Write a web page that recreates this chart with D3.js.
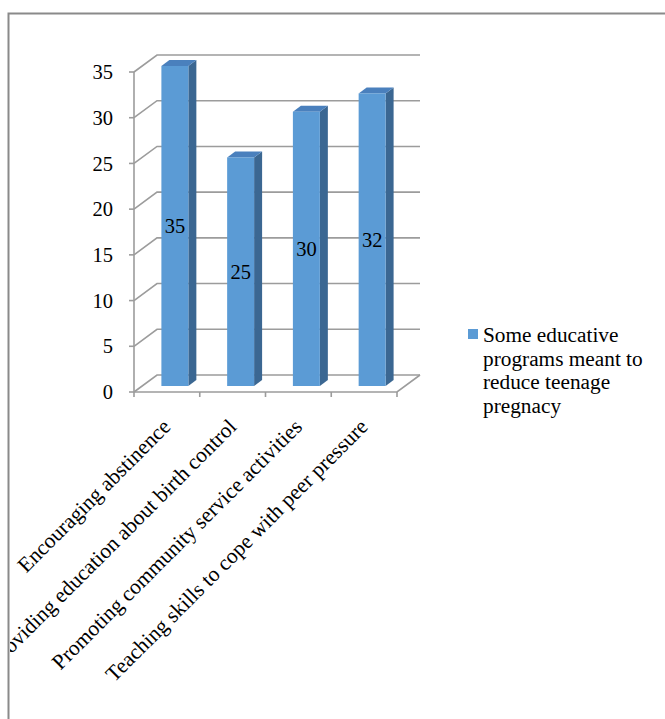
<!DOCTYPE html>
<html>
<head>
<meta charset="utf-8">
<script src="https://cdn.jsdelivr.net/npm/d3@7"></script>
<style>
  html, body { margin: 0; padding: 0; background: #fff; }
  svg { display: block; }
</style>
</head>
<body>
<svg id="chart" width="665" height="719"></svg>
<script>
// Survey results: educative programs meant to reduce teenage pregnancy
const categories = [
  "Encouraging abstinence",
  "Providing education about birth control",
  "Promoting community service activities",
  "Teaching skills to cope with peer pressure"
];
const values = [35, 25, 30, 32];
const yTicks = [0, 5, 10, 15, 20, 25, 30, 35];
const seriesName = ["Some educative", "programs meant to", "reduce teenage", "pregnacy"];

const FONT = "serif";
const svg = d3.select("#chart");

// Plot box (front plane) and the oblique depth of the 3D floor
const plot = { left: 134, right: 397, bottom: 392, top: 72 };
const depth = { dx: 23, dy: -17 };        // back wall offset
const barFront = { dx: 8, dy: -6 };       // bar front face offset
const barBack = { dx: 16, dy: -12 };      // bar back face offset

const x = d3.scaleBand()
  .domain(categories)
  .range([plot.left, plot.right])
  .paddingInner(0.59)
  .paddingOuter(0.295);

const xTick = d3.scaleBand().domain(categories).range([plot.left, plot.right]);

const y = d3.scaleLinear().domain([0, 35]).range([plot.bottom, plot.top]);

const colors = { front: "#5b9bd5", side: "#3b6792", top: "#4a80bd" };
const gridColor = "#9c9c9c";

// Outer frame
svg.append("rect")
  .attr("x", 8.5).attr("y", 13.5)
  .attr("width", 720).attr("height", 800)
  .attr("fill", "none").attr("stroke", "#8a8a8a").attr("stroke-width", 2);

svg.append("clipPath").attr("id", "frameClip")
  .append("rect").attr("x", 10).attr("y", 15).attr("width", 700).attr("height", 800);

const g = svg.append("g").attr("clip-path", "url(#frameClip)");

// Gridlines: left wall diagonals and back wall horizontals
const grid = g.append("g").attr("stroke", gridColor).attr("stroke-width", 1.6).attr("fill", "none");
yTicks.forEach(t => {
  const yy = y(t);
  grid.append("path").attr("d", d3.line()([
    [plot.left, yy],
    [plot.left + depth.dx, yy + depth.dy],
    [plot.right + depth.dx, yy + depth.dy]
  ]));
});
// Floor front edge and right edge
grid.append("path").attr("d", d3.line()([
  [plot.left, plot.bottom],
  [plot.right, plot.bottom],
  [plot.right + depth.dx, plot.bottom + depth.dy]
]));
// Vertical axis line
grid.append("line")
  .attr("x1", plot.left).attr("x2", plot.left)
  .attr("y1", y(35)).attr("y2", plot.bottom);

// Value axis ticks and labels
const yAxis = g.append("g");
yTicks.forEach(t => {
  yAxis.append("line")
    .attr("x1", plot.left - 5).attr("x2", plot.left)
    .attr("y1", y(t)).attr("y2", y(t))
    .attr("stroke", gridColor).attr("stroke-width", 1.6);
  yAxis.append("text")
    .attr("x", plot.left - 21).attr("y", y(t))
    .attr("dy", "0.35em")
    .attr("text-anchor", "end")
    .style("font-family", FONT)
    .style("font-size", "20.5px")
    .text(t);
});

// Category ticks
const tickXs = categories.map(c => xTick(c)).concat([plot.right]);
tickXs.forEach(tx => {
  g.append("line")
    .attr("x1", tx).attr("x2", tx)
    .attr("y1", plot.bottom).attr("y2", plot.bottom + 5)
    .attr("stroke", gridColor).attr("stroke-width", 1.6);
});

// 3D bars
const bars = g.append("g");
categories.forEach((c, i) => {
  const v = values[i];
  const x0 = x(c) + barFront.dx;
  const x1 = x0 + x.bandwidth();
  const yTop = y(v) + barFront.dy;
  const yBot = y(0) + barFront.dy;
  const ddx = barBack.dx - barFront.dx, ddy = barBack.dy - barFront.dy;
  // side face
  bars.append("path")
    .attr("d", d3.line()([[x1, yTop], [x1 + ddx, yTop + ddy], [x1 + ddx, yBot + ddy], [x1, yBot]]) + "Z")
    .attr("fill", colors.side);
  // top face
  bars.append("path")
    .attr("d", d3.line()([[x0, yTop], [x0 + ddx, yTop + ddy], [x1 + ddx, yTop + ddy], [x1, yTop]]) + "Z")
    .attr("fill", colors.top);
  // front face
  bars.append("rect")
    .attr("x", x0).attr("y", yTop)
    .attr("width", x1 - x0).attr("height", yBot - yTop)
    .attr("fill", colors.front);
  // value label
  bars.append("text")
    .attr("x", (x0 + x1) / 2).attr("y", (yTop + yBot) / 2)
    .attr("dy", "0.35em")
    .attr("text-anchor", "middle")
    .style("font-family", FONT)
    .style("font-size", "20.5px")
    .text(v);
});

// Rotated category labels
categories.forEach(c => {
  const cx = xTick(c) + xTick.bandwidth() / 2 + 5;
  const cy = plot.bottom + 36;
  g.append("text")
    .attr("transform", `translate(${cx},${cy}) rotate(-45)`)
    .attr("text-anchor", "end")
    .style("font-family", FONT)
    .style("font-size", "21.5px")
    .text(c);
});

// Legend
const legend = svg.append("g").attr("transform", "translate(468,329)");
legend.append("rect").attr("width", 10).attr("height", 10).attr("fill", colors.front);
seriesName.forEach((line, i) => {
  legend.append("text")
    .attr("x", 15).attr("y", 13 + i * 23.5)
    .style("font-family", FONT)
    .style("font-size", "21.3px")
    .text(line);
});
</script>
</body>
</html>
